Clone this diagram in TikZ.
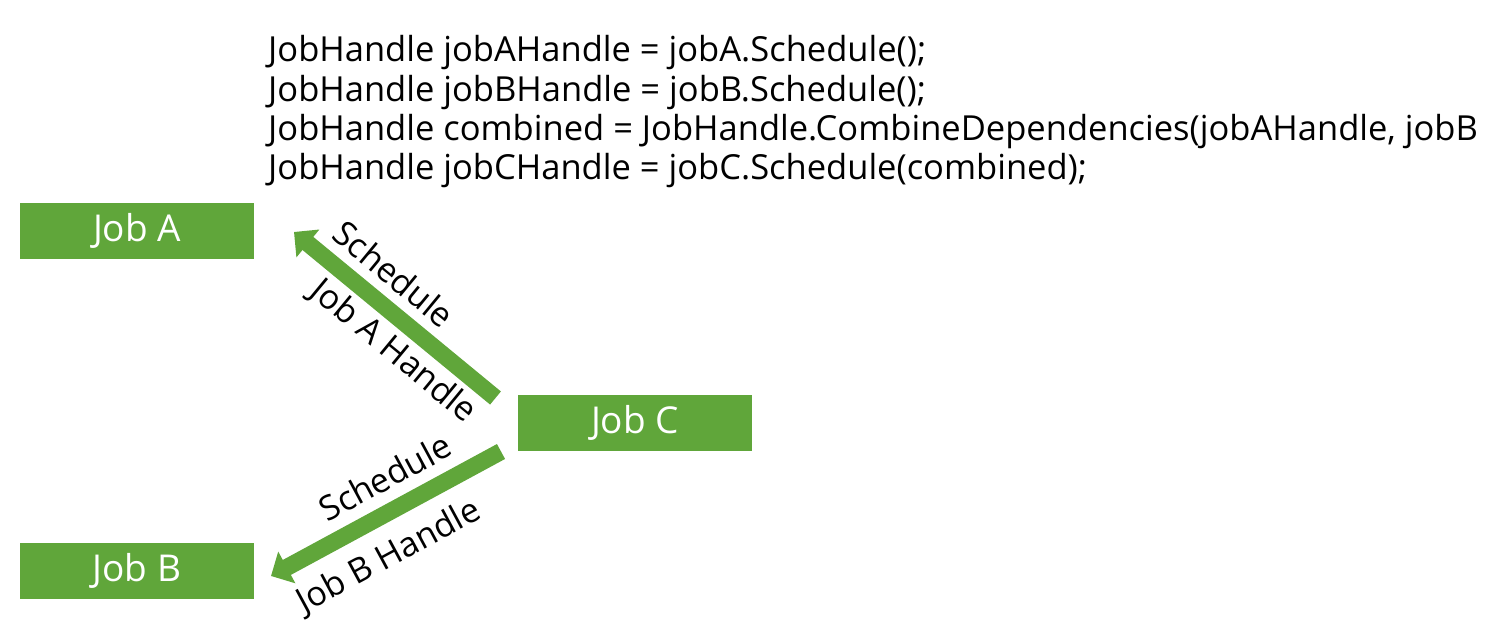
\documentclass[tikz,border=0pt]{standalone}
\usepackage{fontspec}
\setmainfont{Open Sans}
\usetikzlibrary{arrows.meta}
\definecolor{jobgreen}{RGB}{96,166,58}
\tikzset{
  jobbox/.style={fill=jobgreen, draw=none, minimum width=234pt, minimum height=56pt, inner sep=0pt, text=white, font=\fontsize{37}{42}\selectfont},
  codeline/.style={anchor=base west, inner sep=0pt, font=\fontsize{34.5}{40}\selectfont},
  bigarrow/.style={draw=jobgreen, line width=17pt, -{Triangle[length=18pt,width=35pt]}},
  arrlabel/.style={inner sep=0pt, font=\fontsize{34}{40}\selectfont}
}
\begin{document}
\begin{tikzpicture}[x=1pt,y=-1pt]
\useasboundingbox (0,0) rectangle (1485,626);
\node[codeline] (l1) at (268,62) {JobHandle jobAHandle = jobA.Schedule();};
\node[codeline] (l2) at (268,101) {JobHandle jobBHandle = jobB.Schedule();};
\node[codeline] (l3) at (268,140) {JobHandle combined = JobHandle.CombineDependencies(jobAHandle, jobB};
\node[codeline] (l4) at (268,179) {JobHandle jobCHandle = jobC.Schedule(combined);};
\node[jobbox] (ja) at (137,231) {Job A};
\node[jobbox] (jc) at (635,423) {Job C};
\node[jobbox] (jb) at (137,571) {Job B};
\coordinate (a1s) at (495.5,398);
\coordinate (a1e) at (294,232);
\coordinate (a2s) at (501,451.5);
\coordinate (a2e) at (271,576);
\draw[bigarrow] (a1s) -- (a1e);
\draw[bigarrow] (a2s) -- (a2e);
\node[arrlabel, rotate=-39.5] (s1) at (394,274) {Schedule};
\node[arrlabel, rotate=-39.5] (h1) at (393,352) {Job A Handle};
\node[arrlabel, rotate=28.4] (s2) at (385,477) {Schedule};
\node[arrlabel, rotate=28.4] (h2) at (389,557) {Job B Handle};
\end{tikzpicture}
\end{document}
